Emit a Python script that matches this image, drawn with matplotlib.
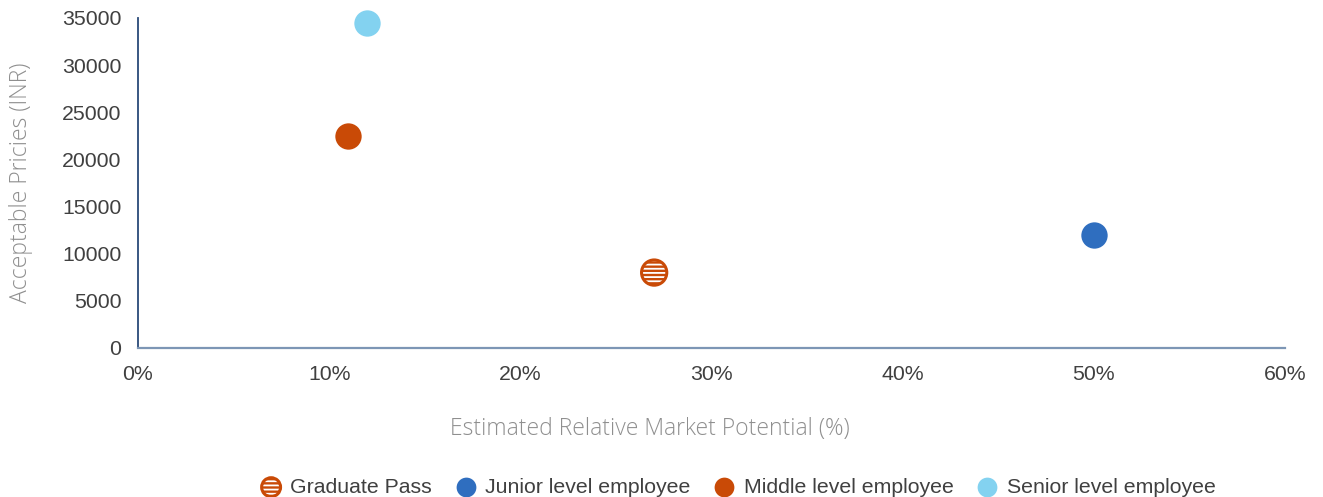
import matplotlib
matplotlib.use("Agg")
import matplotlib.pyplot as plt
from matplotlib.ticker import FuncFormatter, MultipleLocator
from matplotlib.legend_handler import HandlerTuple

# segment data: relative market potential (%) vs acceptable price (INR)
segments = ["Graduate Pass", "Junior level employee",
            "Middle level employee", "Senior level employee"]
market_potential = [27, 50, 11, 12]
acceptable_price = [8000, 12000, 22500, 34500]
colors = ["#c94a06", "#2f6ebf", "#c94a06", "#83d2f0"]

plt.rcParams["font.family"] = ["Liberation Sans", "DejaVu Sans"]
plt.rcParams["hatch.linewidth"] = 1.3

fig = plt.figure(figsize=(13.23, 4.97), dpi=100)
ax = fig.add_axes([0.1043, 0.2998, 0.8670, 0.6640])

handles = []
for i, name in enumerate(segments):
    x, y, c = market_potential[i], acceptable_price[i], colors[i]
    if name == "Graduate Pass":
        # orange disc with white stripes, orange rim on top
        fill = ax.scatter([x], [y], s=330, c=c, edgecolors="white",
                          linewidths=0, hatch="----", zorder=3, clip_on=False)
        rim = ax.scatter([x], [y], s=330, facecolors="none",
                         edgecolors=c, linewidths=2.2, zorder=4, clip_on=False)
        handles.append((fill, rim))
    else:
        h = ax.scatter([x], [y], s=360, c=c, linewidths=0, zorder=3,
                       clip_on=False)
        handles.append(h)

ax.set_xlim(0, 60)
ax.set_ylim(0, 35000)
ax.xaxis.set_major_locator(MultipleLocator(10))
ax.yaxis.set_major_locator(MultipleLocator(5000))
ax.xaxis.set_major_formatter(FuncFormatter(lambda v, p: "%d%%" % v))
ax.tick_params(length=0, labelsize=15.3, labelcolor="#404040")
ax.tick_params(axis="x", pad=12)
ax.tick_params(axis="y", pad=12)

for side in ["top", "right"]:
    ax.spines[side].set_visible(False)
ax.spines["left"].set_color("#2a4a78")
ax.spines["left"].set_linewidth(1.3)
ax.spines["bottom"].set_color("#7d96b5")
ax.spines["bottom"].set_linewidth(1.6)

label_font = dict(fontsize=16.5, color="#8f8f8f",
                  family=["Open Sans", "DejaVu Sans"], fontweight="light")
ax.set_xlabel("Estimated Relative Market Potential (%)", labelpad=24,
              x=0.4464, **label_font)
ax.set_ylabel("Acceptable Pricies (INR)", labelpad=21, **label_font)

fig.legend(handles, segments, loc="lower center", bbox_to_anchor=(0.557, -0.038),
           ncol=4, frameon=False, fontsize=15.3, labelcolor="#404040",
           handler_map={tuple: HandlerTuple(ndivide=1)},
           markerscale=0.75, handlelength=1.2, handletextpad=0.3,
           columnspacing=1.0)

fig.savefig("out.png", dpi=100)
